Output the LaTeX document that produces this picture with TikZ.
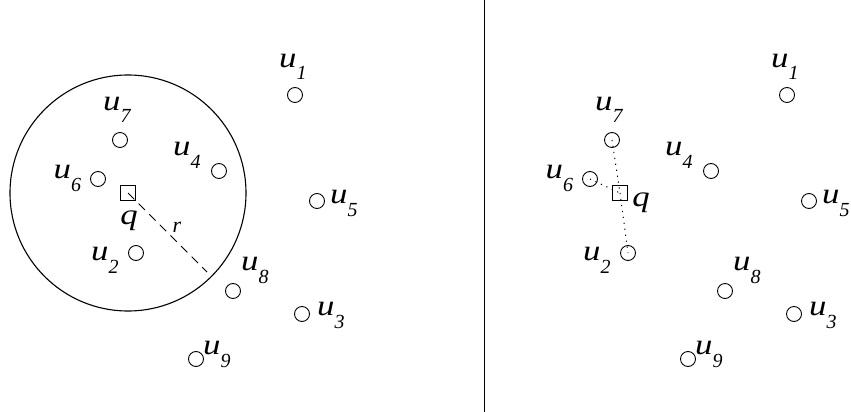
\documentclass[tikz,border=0pt]{standalone}
\usepackage{fontspec}
\setmainfont{Liberation Serif}
\newfontfamily\labfont[FakeStretch=1.2]{Liberation Serif}
\tikzset{
  pt/.style={circle, draw, line width=0.9pt, minimum size=15pt, inner sep=0pt},
  qbox/.style={rectangle, draw, line width=0.9pt, minimum size=15pt, inner sep=0pt},
  lab/.style={anchor=base west, inner sep=0pt, font=\labfont\fontsize{29}{29}\selectfont\itshape},
  qlab/.style={anchor=base, inner sep=0pt, font=\labfont\fontsize{29}{29}\selectfont\itshape},
  rlab/.style={anchor=base, inner sep=0pt, font=\fontsize{22}{22}\selectfont\itshape},
  disk/.style={circle, draw, line width=1.1pt, minimum size=236pt, inner sep=0pt},
  radius line/.style={line width=0.9pt, dash pattern=on 9pt off 6pt},
  nn line/.style={line width=1pt, dash pattern=on 1.2pt off 4.8pt},
  divider/.style={line width=1pt},
}
\newcommand\ulab[1]{u\raisebox{-13pt}{\normalfont\fontsize{20}{20}\selectfont\itshape #1}}
\newcommand\drawpoints[1]{%
  \node[pt] (#1u1) at (295,95) {};
  \node[pt] (#1u2) at (136,253) {};
  \node[pt] (#1u3) at (302,314) {};
  \node[pt] (#1u4) at (219,171) {};
  \node[pt] (#1u5) at (317,201) {};
  \node[pt] (#1u6) at (98,179) {};
  \node[pt] (#1u7) at (120,140) {};
  \node[pt] (#1u8) at (233,291) {};
  \node[pt] (#1u9) at (196,359) {};
  \node[qbox] (#1q) at (128,193) {};
  \node[lab] (#1l1) at (279,67) {\ulab{1}};
  \node[lab] (#1l2) at (91,260) {\ulab{2}};
  \node[lab] (#1l3) at (317,315) {\ulab{3}};
  \node[lab] (#1l4) at (173,155) {\ulab{4}};
  \node[lab] (#1l5) at (330,203) {\ulab{5}};
  \node[lab] (#1l6) at (53.5,178.5) {\ulab{6}};
  \node[lab] (#1l7) at (103,110) {\ulab{7}};
  \node[lab] (#1l8) at (241,270) {\ulab{8}};
  \node[lab] (#1l9) at (203,354) {\ulab{9}};
}
\begin{document}
\begin{tikzpicture}[x=1pt, y=-1pt]
  \useasboundingbox (0,0) rectangle (851,412);
  % left panel
  \begin{scope}
    \drawpoints{L}
    \node[qlab] (Lqlab) at (129,224) {q};
    \node[disk] (Ldisk) at (Lq.center) {};
    \coordinate (Lrend) at (207,272);
    \draw[radius line] (Lq.center) -- (Lrend);
    \node[rlab] (Lr) at (177,232) {r};
  \end{scope}
  % divider
  \coordinate (dtop) at (484,0);
  \coordinate (dbot) at (484,412);
  \draw[divider] (dtop) -- (dbot);
  % right panel
  \begin{scope}[xshift=492pt]
    \drawpoints{R}
    \node[qlab] (Rqlab) at (149,206) {q};
    \draw[nn line] (Ru7.center) -- (Rq.center);
    \draw[nn line] (Ru6.center) -- (Rq.center);
    \draw[nn line] (Rq.center) -- (Ru2.center);
  \end{scope}
\end{tikzpicture}
\end{document}
